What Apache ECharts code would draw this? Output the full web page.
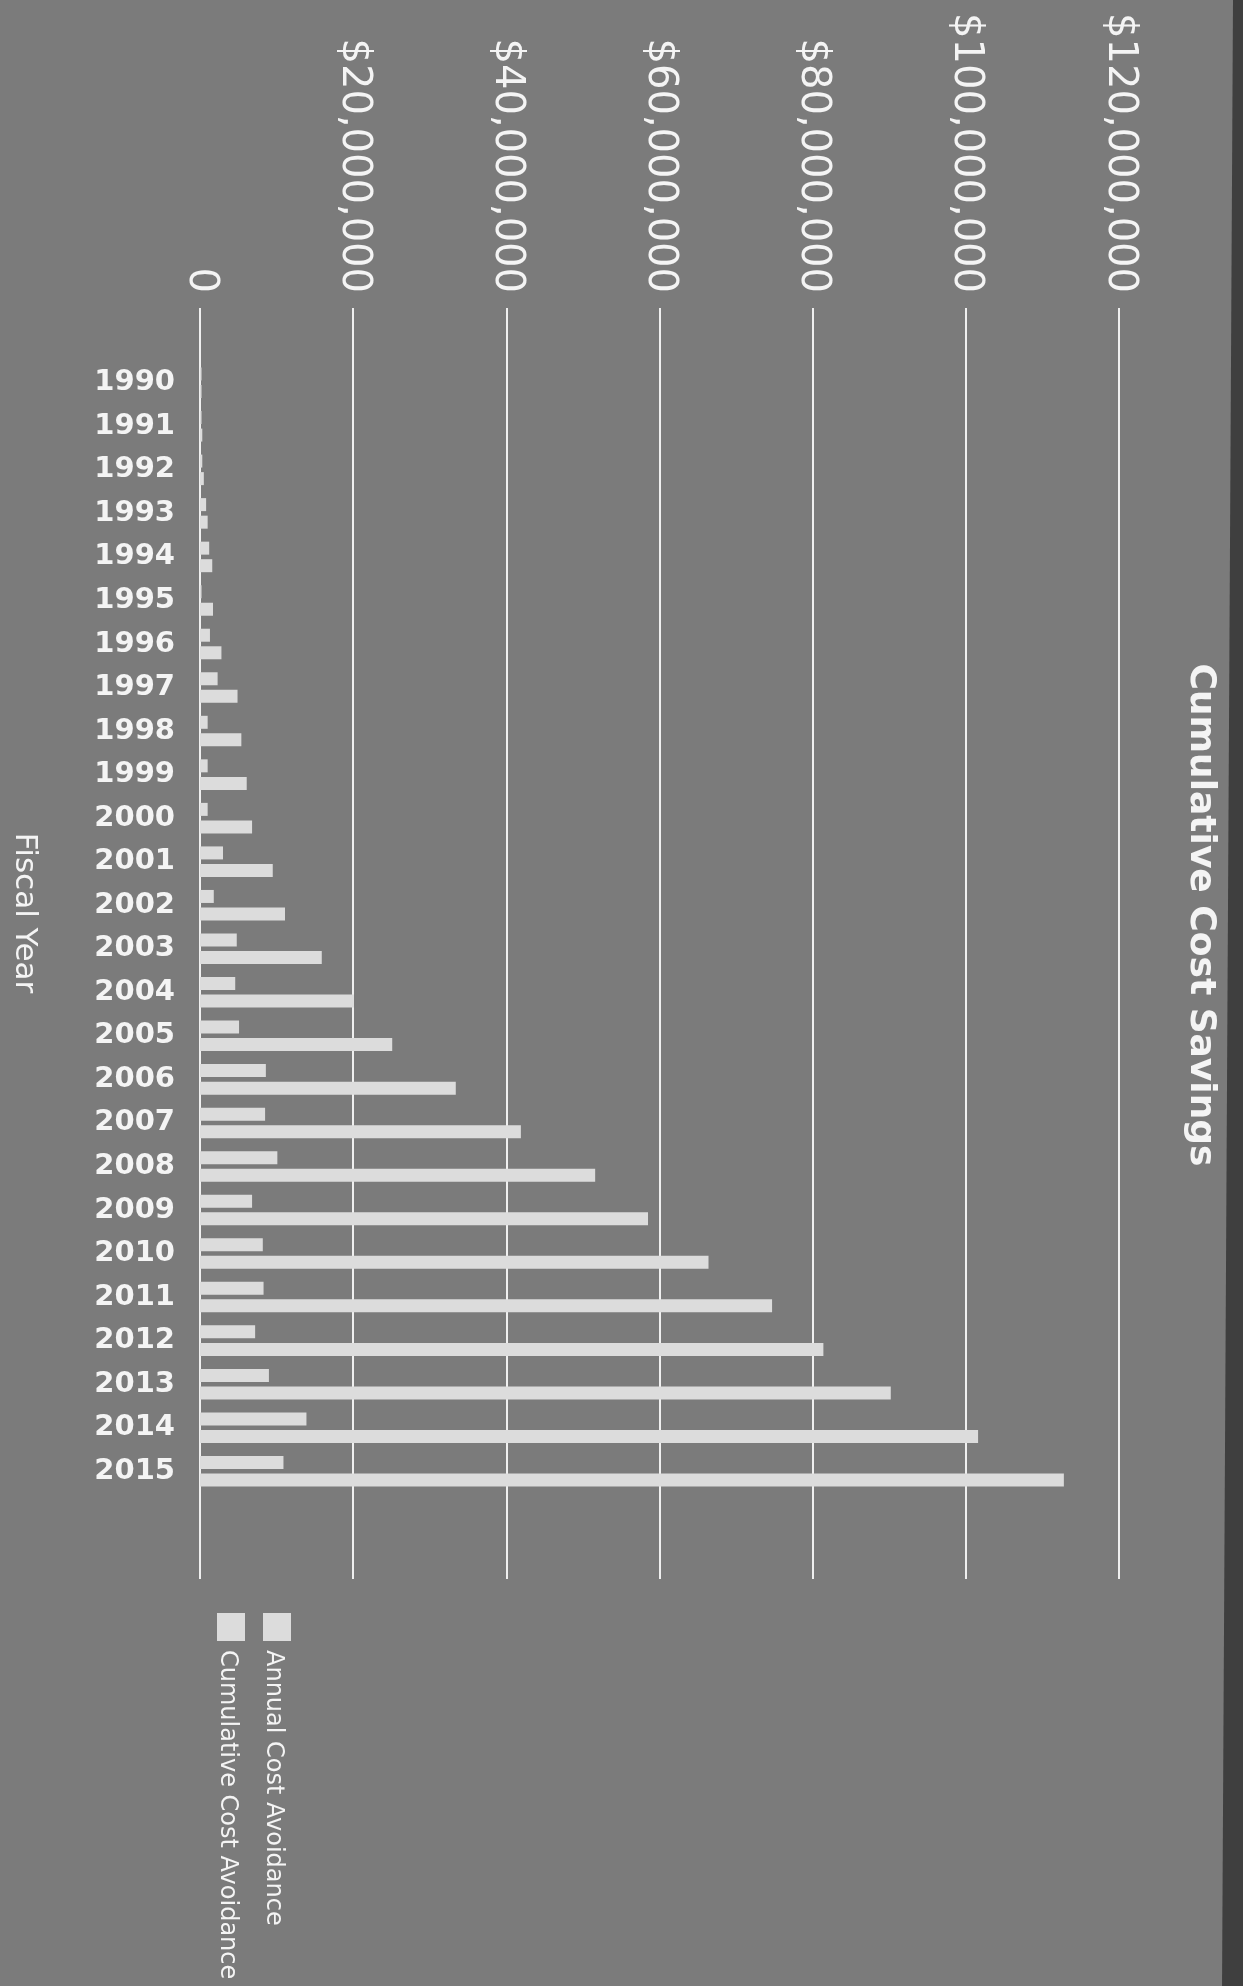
<!DOCTYPE html>
<html>
<head>
<meta charset="utf-8">
<title>Cumulative Cost Savings</title>
<script src="https://cdn.jsdelivr.net/npm/echarts@6/dist/echarts.min.js"></script>
<style>
  html, body { margin: 0; padding: 0; background: #7b7b7b; }
  #chart { width: 1243px; height: 1986px; }
</style>
</head>
<body>
<div id="chart"></div>
<script>
const fiscalYears = ['1990', '1991', '1992', '1993', '1994', '1995', '1996', '1997', '1998', '1999',
    '2000', '2001', '2002', '2003', '2004', '2005', '2006', '2007', '2008', '2009',
    '2010', '2011', '2012', '2013', '2014', '2015']

// dollars
const annualCostAvoidance = [200000, 200000, 300000, 800000, 1200000, 200000, 1300000, 2300000, 1000000, 1000000,
    1000000, 3000000, 1800000, 4800000, 4600000, 5100000, 8600000, 8500000, 10100000, 6800000,
    8200000, 8300000, 7200000, 9000000, 13900000, 10900000]
const cumulativeCostAvoidance = [200000, 300000, 500000, 1000000, 1600000, 1700000, 2800000, 4900000, 5400000, 6100000,
    6800000, 9500000, 11100000, 15900000, 20100000, 25100000, 33400000, 41900000, 51600000, 58500000,
    66400000, 74700000, 81400000, 90200000, 101600000, 112800000]

const valueTicks = [0, 20000000, 40000000, 60000000, 80000000, 100000000, 120000000]

const fontFamily = 'DejaVu Sans'
const white = '#f4f4f4'
const barColor = '#dcdcdc'

const myChart = echarts.init(document.getElementById('chart'))

const fmtDollars = v => v === 0 ? '0' : '$' + v.toLocaleString('en-US')

const legendItems = [
    {name: 'Annual Cost Avoidance', x: 277},
    {name: 'Cumulative Cost Avoidance', x: 231}
]

const graphic = [
    // dark scanner edge on the right
    {
        type: 'polygon',
        shape: {points: [[1233, 0], [1243, 0], [1243, 1986], [1222, 1986]]},
        style: {fill: '#3f3f3f'}
    },
    {
        type: 'text',
        x: 1200, y: 915,
        rotation: -Math.PI / 2,
        style: {
            text: 'Cumulative Cost Savings',
            fontFamily, fontSize: 36, fontWeight: 'bold',
            fill: white, align: 'center', verticalAlign: 'middle'
        }
    },
    {
        type: 'text',
        x: 24, y: 913,
        rotation: -Math.PI / 2,
        style: {
            text: 'Fiscal Year',
            fontFamily, fontSize: 31,
            fill: white, align: 'center', verticalAlign: 'middle'
        }
    }
]
legendItems.forEach(item => {
    graphic.push({
        type: 'rect',
        shape: {x: item.x - 14, y: 1613, width: 28, height: 28},
        style: {fill: barColor}
    })
    graphic.push({
        type: 'text',
        x: item.x - 4, y: 1650,
        rotation: -Math.PI / 2,
        style: {
            text: item.name,
            fontFamily, fontSize: 24,
            fill: white, align: 'left', verticalAlign: 'middle'
        }
    })
})

const option = {
    backgroundColor: '#7b7b7b',
    animation: false,
    grid: [
        // grid 0 only carries the value axis and its long gridlines
        {left: 200, right: 124, top: 308, bottom: 407},
        // grid 1 holds the bars
        {left: 200, right: 124, top: 361, bottom: 493}
    ],
    xAxis: [
        {
            gridIndex: 0,
            type: 'value',
            position: 'top',
            min: valueTicks[0],
            max: valueTicks[valueTicks.length - 1],
            interval: valueTicks[1] - valueTicks[0],
            axisLine: {show: false},
            axisTick: {show: false},
            axisLabel: {
                rotate: -90,
                margin: 15,
                fontFamily,
                fontSize: 40,
                color: white,
                formatter: fmtDollars
            },
            splitLine: {lineStyle: {color: '#efefef', width: 2}}
        },
        {
            gridIndex: 1,
            type: 'value',
            min: valueTicks[0],
            max: valueTicks[valueTicks.length - 1],
            show: false
        }
    ],
    yAxis: [
        {gridIndex: 0, type: 'value', min: 0, max: 1, show: false},
        {
            gridIndex: 1,
            type: 'category',
            inverse: true,
            data: fiscalYears,
            axisLine: {show: false},
            axisTick: {show: false},
            splitLine: {show: false},
            axisLabel: {
                margin: 25,
                fontFamily,
                fontSize: 29,
                fontWeight: 'bold',
                color: white
            }
        }
    ],
    graphic,
    series: [
        {
            name: 'Annual Cost Avoidance',
            type: 'bar',
            xAxisIndex: 1,
            yAxisIndex: 1,
            data: annualCostAvoidance,
            barWidth: 13,
            barGap: '35%',
            itemStyle: {color: barColor}
        },
        {
            name: 'Cumulative Cost Avoidance',
            type: 'bar',
            xAxisIndex: 1,
            yAxisIndex: 1,
            data: cumulativeCostAvoidance,
            barWidth: 13,
            barGap: '35%',
            itemStyle: {color: barColor}
        }
    ]
}

myChart.setOption(option)
</script>
</body>
</html>
